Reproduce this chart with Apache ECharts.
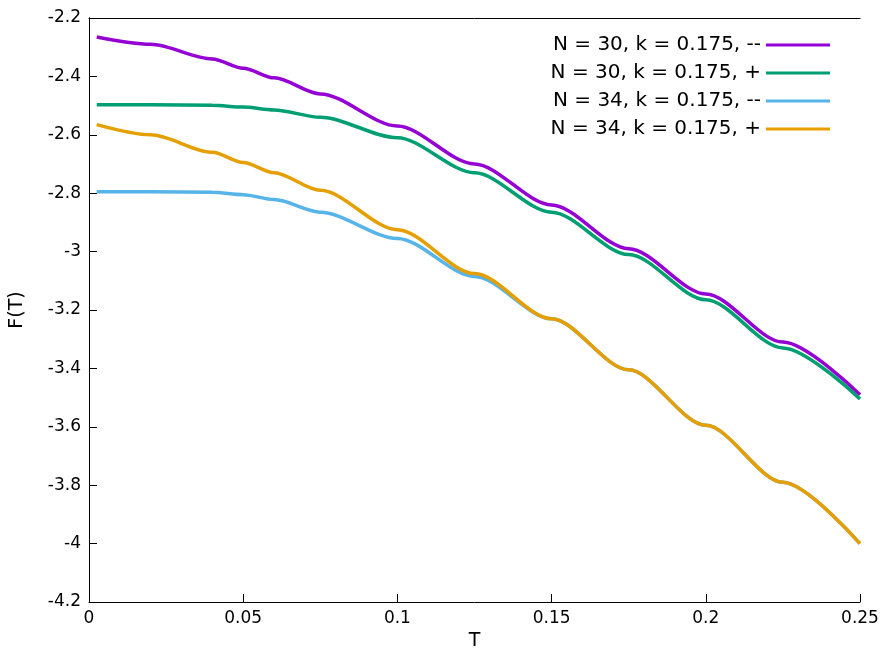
<!DOCTYPE html>
<html>
<head>
<meta charset="utf-8">
<title>F(T)</title>
<script src="https://cdn.jsdelivr.net/npm/echarts@6/dist/echarts.min.js"></script>
<style>html,body{margin:0;padding:0;background:#fff}</style>
</head>
<body>
<div id="main" style="width:889px;height:667px;"></div>
<script>
// T 取值
var tVals = [0.0025, 0.02, 0.04, 0.05, 0.06, 0.075, 0.1, 0.125, 0.15, 0.175, 0.2, 0.225, 0.25];
var n30minus = [-2.265, -2.29, -2.34, -2.372, -2.405, -2.46, -2.57, -2.7, -2.84, -2.99, -3.145, -3.31, -3.49];
var n30plus  = [-2.497, -2.497, -2.499, -2.505, -2.515, -2.54, -2.61, -2.73, -2.865, -3.01, -3.165, -3.33, -3.505];
var n34minus = [-2.795, -2.795, -2.797, -2.805, -2.822, -2.865, -2.955, -3.085, -3.23, -3.405, -3.595, -3.79, -4.0];
var n34plus  = [-2.565, -2.6, -2.66, -2.695, -2.73, -2.79, -2.925, -3.075, -3.23, -3.405, -3.595, -3.79, -4.0];
var names = ['N = 30, k = 0.175, --', 'N = 30, k = 0.175, +', 'N = 34, k = 0.175, --', 'N = 34, k = 0.175, +'];
var colors = ['#9400d3', '#009e73', '#56b4e9', '#e69f00'];
var values = [n30minus, n30plus, n34minus, n34plus];

var myChart = echarts.init(document.getElementById('main'));
var axisFont = { fontFamily: 'DejaVu Sans', fontSize: 17, color: '#000' };
var option = {
  animation: false,
  grid: { left: 85, right: 29, top: 18, bottom: 65 },
  legend: {
    orient: 'vertical', right: 54, top: 30, align: 'right',
    itemWidth: 64, itemHeight: 3, itemGap: 8,
    icon: 'rect',
    textStyle: { fontFamily: 'DejaVu Sans', fontSize: 20, color: '#000' },
    data: names
  },
  xAxis: [{
    type: 'value', min: 0, max: 0.25, interval: 0.05,
    name: 'T', nameLocation: 'middle', nameGap: 30,
    nameTextStyle: { fontFamily: 'DejaVu Sans', fontSize: 19, color: '#000' },
    axisLine: { onZero: false, lineStyle: { color: '#000' } },
    axisTick: { inside: true, length: 8, lineStyle: { color: '#000' } },
    splitLine: { show: false },
    axisLabel: axisFont
  }, {
    type: 'value', min: 0, max: 0.25, position: 'top',
    axisLine: { show: true, lineStyle: { color: '#000' } }, axisTick: { show: false },
    axisLabel: { show: false }, splitLine: { show: false }
  }],
  yAxis: [{
    type: 'value', min: -4.2, max: -2.2, interval: 0.2,
    name: 'F(T)', nameLocation: 'middle', nameGap: 62,
    nameTextStyle: { fontFamily: 'DejaVu Sans', fontSize: 19, color: '#000' },
    axisLine: { show: true, lineStyle: { color: '#000' } },
    axisTick: { inside: true, length: 8, lineStyle: { color: '#000' } },
    splitLine: { show: false },
    axisLabel: Object.assign({ formatter: function (v) { return String(+v.toFixed(1)); } }, axisFont)
  }, {
    type: 'value', min: -4.2, max: -2.2, position: 'right',
    axisLine: { show: true, lineStyle: { color: '#000' } }, axisTick: { show: false },
    axisLabel: { show: false }, splitLine: { show: false }
  }],
  series: names.map(function (nm, i) {
    return {
      name: nm, type: 'line', smooth: 0.3, smoothMonotone: 'x', showSymbol: false,
      color: colors[i], lineStyle: { width: 3.5, color: colors[i] },
      z: 2 + i,
      data: tVals.map(function (t, j) { return [t, values[i][j]]; })
    };
  })
};
myChart.setOption(option);
</script>
</body>
</html>
